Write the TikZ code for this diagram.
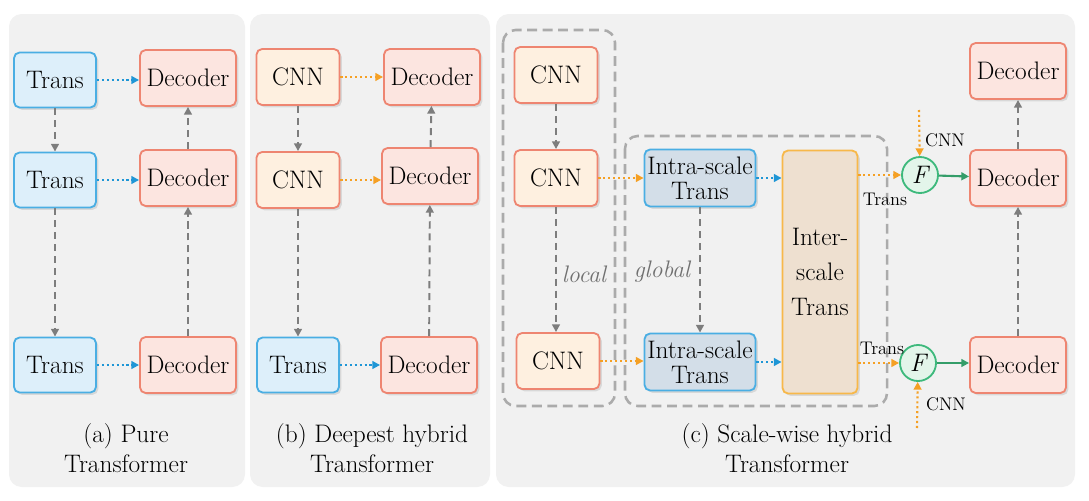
\documentclass[tikz,border=0pt]{standalone}
\usetikzlibrary{positioning,arrows.meta,shadows,backgrounds}
\definecolor{panelbg}{HTML}{F1F1F1}
\definecolor{transline}{HTML}{4AAEE3}
\definecolor{transbg}{HTML}{DDEFFA}
\definecolor{decline}{HTML}{EE8571}
\definecolor{decbg}{HTML}{FCE5E0}
\definecolor{cnnbg}{HTML}{FEF0E0}
\definecolor{intrabg}{HTML}{D3DEE8}
\definecolor{interline}{HTML}{F7B84A}
\definecolor{interbg}{HTML}{EEE0D0}
\definecolor{fuseline}{HTML}{3DB97C}
\definecolor{fusebg}{HTML}{E3F5EA}
\definecolor{tflow}{HTML}{1E96D6}
\definecolor{cflow}{HTML}{F5A024}
\definecolor{skipgrey}{HTML}{7D7D7D}
\definecolor{rule}{HTML}{ABABAB}
\tikzset{
  font=\fontsize{18}{18}\selectfont,
  >={Triangle[length=5.5pt,width=5.5pt]},
  panel/.style={fill=panelbg, rounded corners=9pt},
  blk/.style={draw, line width=1.3pt, rounded corners=4pt, align=center, inner sep=0pt,
              drop shadow={shadow xshift=1.6pt, shadow yshift=-1.6pt, opacity=0.22}},
  trans/.style={blk, draw=transline, fill=transbg, minimum width=2.05cm, minimum height=1.375cm},
  dec/.style={blk, draw=decline, fill=decbg, minimum width=2.4cm, minimum height=1.4cm},
  cnn/.style={blk, draw=decline, fill=cnnbg, minimum width=2.075cm, minimum height=1.4cm},
  intra/.style={blk, draw=transline, fill=intrabg, minimum width=2.775cm, minimum height=1.425cm},
  inter/.style={blk, draw=interline, fill=interbg, minimum width=1.875cm, minimum height=6.075cm},
  fusenode/.style={circle, draw=fuseline, fill=fusebg, line width=1.3pt, minimum size=0.9cm,
                   inner sep=0pt, font=\fontsize{18}{18}\selectfont\itshape},
  skip/.style={->, draw=skipgrey, line width=1.4pt, dash pattern=on 5pt off 3.5pt},
  tfeat/.style={->, draw=tflow, line width=1.5pt, dash pattern=on 1.5pt off 2pt},
  cfeat/.style={->, draw=cflow, line width=1.5pt, dash pattern=on 1.5pt off 2pt},
  fuse/.style={->, draw=fuseline!85!black, line width=1.5pt},
  group/.style={draw=rule, line width=1.8pt, dash pattern=on 7pt off 4pt, rounded corners=9pt},
  caption/.style={align=center, inner sep=0pt, font=\fontsize{18}{21}\selectfont},
  tag/.style={font=\fontsize{13}{13}\selectfont, inner sep=0pt},
  note/.style={font=\fontsize{17}{17}\selectfont\itshape, text=skipgrey!90!black, inner sep=0pt},
}
\begin{document}
\begin{tikzpicture}[x=0.025cm, y=-0.025cm]
\useasboundingbox (0,0) rectangle (1089,500);

% --- (a) pure Transformer -------------------------------------------------------------
\node[trans] (ta1) at (55,80) {Trans};
\node[trans] (ta2) at (55,180) {Trans};
\node[trans] (ta3) at (55,365) {Trans};
\node[dec] (da1) at (188,78) {Decoder};
\node[dec] (da2) at (188,178) {Decoder};
\node[dec] (da3) at (188,365) {Decoder};
\draw[skip] (ta1) -- (ta2);
\draw[skip] (ta2) -- (ta3);
\draw[skip] (da3) -- (da2);
\draw[skip] (da2) -- (da1);
\draw[tfeat] (ta1) -- (da1.west |- ta1);
\draw[tfeat] (ta2) -- (da2.west |- ta2);
\draw[tfeat] (ta3) -- (da3);
\node[caption] (capa) at (126,448) {(a) Pure\\Transformer};

% --- (b) deepest hybrid ---------------------------------------------------------------
\node[cnn] (cb1) at (298,77) {CNN};
\node[cnn] (cb2) at (298,180) {CNN};
\node[trans] (tb3) at (298,365) {Trans};
\node[dec] (db1) at (432,77) {Decoder};
\node[dec] (db2) at (430,176) {Decoder};
\node[dec] (db3) at (429,365) {Decoder};
\draw[skip] (cb1) -- (cb2);
\draw[skip] (cb2) -- (tb3);
\draw[skip] (db3) -- (db2);
\draw[skip] (db2) -- (db1);
\draw[cfeat] (cb1) -- (db1);
\draw[cfeat] (cb2) -- (db2.west |- cb2);
\draw[tfeat] (tb3) -- (db3);
\node[caption] (capb) at (372,448) {(b) Deepest hybrid\\Transformer};

% --- (c) scale-wise hybrid ------------------------------------------------------------
\node[cnn] (cc1) at (556,75) {CNN};
\node[cnn] (cc2) at (556,178) {CNN};
\node[cnn] (cc3) at (558,361) {CNN};
\node[intra] (ia1) at (700,178) {Intra-scale\\Trans};
\node[intra] (ia2) at (700,362) {Intra-scale\\Trans};
\node[inter] (ie) at (820,272) {Inter-\\[7pt]scale\\[7pt]Trans};
\node[fusenode] (f1) at (920,175) {F};
\node[fusenode] (f2) at (918,363) {F};
\node[dec] (dc1) at (1018,71) {Decoder};
\node[dec] (dc2) at (1018,178) {Decoder};
\node[dec] (dc3) at (1018,365) {Decoder};

\draw[skip] (cc1) -- (cc2);
\draw[skip] (cc2) -- (cc3.north -| cc2);
\draw[skip] (ia1) -- (ia2);
\draw[skip] (dc3) -- (dc2);
\draw[skip] (dc2) -- (dc1);
\draw[cfeat] (cc2) -- (ia1);
\draw[cfeat] (cc3) -- (ia2.west |- cc3);
\draw[tfeat] (ia1) -- (ia1 -| ie.west);
\draw[tfeat] (ia2) -- (ia2 -| ie.west);
\draw[cfeat] (f1 -| ie.east) -- (f1);
\draw[cfeat] (f2 -| ie.east) -- (f2);
\coordinate (cin1) at (919,110);
\coordinate (cin2) at (917,428);
\draw[cfeat] (cin1) -- (f1);
\draw[cfeat] (cin2) -- (f2);
\draw[fuse] (f1) -- (dc2);
\draw[fuse] (f2) -- (dc3.west |- f2);

\node[tag] (t1) at (945,140) {CNN};
\node[tag] (t2) at (885,199) {Trans};
\node[tag] (t3) at (882,348) {Trans};
\node[tag] (t4) at (946,404) {CNN};
\node[note] (loc) at (584,274) {local};
\node[note] (glob) at (662,272) {global};
\node[caption] (capc) at (787,448) {(c) Scale-wise hybrid\\Transformer};

% --- panels and groups ----------------------------------------------------------------
\begin{scope}[on background layer]
  \fill[panel] (9,14) rectangle (245,487);
  \fill[panel] (250,14) rectangle (490,487);
  \fill[panel] (496,14) rectangle (1075,487);
  \draw[group] (503,30) rectangle (615,406);
  \draw[group] (625,136) rectangle (887,406);
\end{scope}

\end{tikzpicture}
\end{document}
